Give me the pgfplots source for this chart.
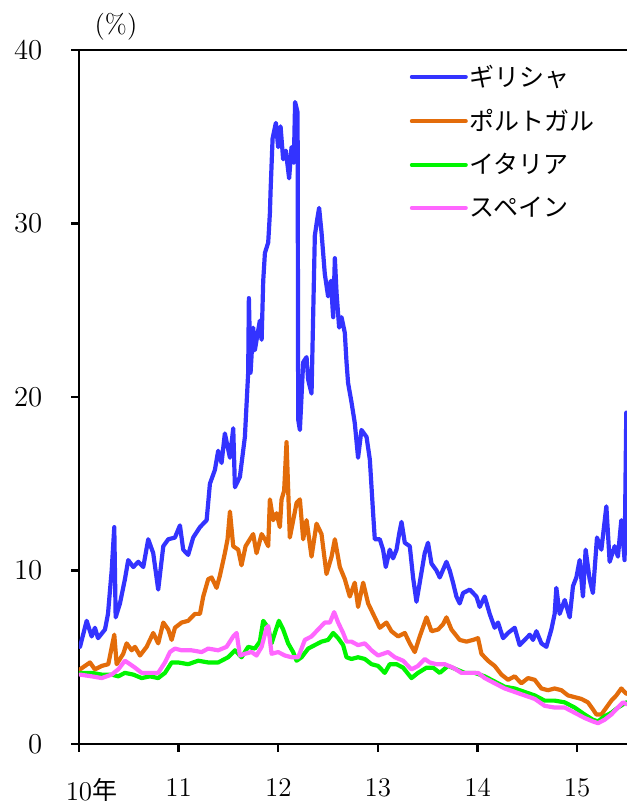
\documentclass[border=0pt]{standalone}
\usepackage{fontspec}
\usepackage{pgfplots}
\pgfplotsset{compat=1.18}
\newfontfamily\cjk{Noto Sans CJK JP}
\definecolor{cGR}{RGB}{51,51,255}
\definecolor{cPT}{RGB}{227,108,10}
\definecolor{cIT}{RGB}{0,245,0}
\definecolor{cES}{RGB}{255,102,255}
\begin{document}
\begin{tikzpicture}
\begin{axis}[
  scale only axis, width=274pt, height=347pt,
  xmin=0, xmax=5.5, ymin=0, ymax=40,
  axis x line=box, axis y line=left,
  axis line style={-, line width=1.4pt},
  xtick pos=bottom, ytick pos=left,
  tick align=outside, major tick length=3.8pt,
  every tick/.style={black, line width=1.2pt},
  xtick={0,1,2,3,4,5},
  xticklabels={10\rlap{\raisebox{0.6pt}{\cjk\fontsize{12.5}{14}\selectfont 年}},11,12,13,14,15},
  ytick={0,10,20,30,40},
  tick label style={font=\fontsize{13.5}{16}\selectfont},
  yticklabel style={xshift=-11pt},
  xticklabel style={yshift=-10pt},
  legend style={draw=none, fill=none, at={(rel axis cs:0.592,0.988)}, anchor=north west,
    font=\cjk\fontsize{12.5}{14}\selectfont, row sep=8pt,
    nodes={inner sep=1pt}},
  legend cell align=left,
  legend image code/.code={\draw[#1, line width=2pt] (0pt,0pt) -- (27pt,0pt);},
  every axis plot/.append style={line width=2.1pt, line join=round, line cap=round},
]
\coordinate (O) at (rel axis cs:0,0);
\coordinate (TL) at (rel axis cs:0,1);
% Greece
\addplot[cGR] coordinates {
(0.010,5.6)(0.077,7.1)(0.127,6.2)(0.160,6.7)(0.191,6.1)(0.261,6.6)(0.291,7.5)(0.328,10.0)
(0.354,12.5)(0.368,7.3)(0.411,8.1)(0.461,9.5)(0.494,10.6)(0.545,10.2)(0.595,10.5)(0.645,10.2)
(0.695,11.8)(0.745,11.0)(0.795,8.9)(0.846,11.4)(0.896,11.8)(0.963,11.9)(1.013,12.6)(1.046,11.2)
(1.096,10.9)(1.146,11.9)(1.214,12.5)(1.281,12.9)(1.314,15.0)(1.364,15.8)(1.397,16.9)(1.431,16.2)
(1.464,17.9)(1.515,16.5)(1.548,18.2)(1.565,14.8)(1.615,15.4)(1.665,17.7)(1.698,21.4)(1.705,25.7)
(1.722,21.4)(1.748,24.0)(1.765,22.7)(1.815,24.4)(1.833,23.3)(1.849,26.7)(1.866,28.3)(1.899,28.9)
(1.916,30.6)(1.923,31.9)(1.943,34.9)(1.976,35.8)(1.999,34.4)(2.023,35.6)(2.049,33.7)(2.076,34.2)
(2.109,32.6)(2.133,34.4)(2.156,33.5)(2.169,37.0)(2.194,36.4)(2.200,18.7)(2.217,18.1)(2.250,22.0)
(2.284,22.3)(2.300,21.0)(2.334,20.2)(2.367,29.3)(2.390,30.2)(2.410,30.9)(2.434,29.5)(2.467,27.1)
(2.500,25.8)(2.528,26.7)(2.551,24.6)(2.568,28.0)(2.585,26.0)(2.611,24.0)(2.635,24.6)(2.668,23.7)
(2.685,22.0)(2.701,20.8)(2.735,19.7)(2.768,18.5)(2.801,16.5)(2.835,18.1)(2.886,17.7)(2.919,16.4)
(2.952,13.3)(2.969,11.8)(3.019,11.8)(3.052,11.2)(3.079,10.2)(3.119,11.2)(3.152,10.7)(3.187,11.2)
(3.213,12.1)(3.237,12.8)(3.270,11.6)(3.320,11.4)(3.353,9.6)(3.387,8.2)(3.420,9.3)(3.470,11.0)
(3.503,11.6)(3.538,10.4)(3.588,10.0)(3.621,9.6)(3.688,10.5)(3.721,10.0)(3.754,9.3)(3.788,8.5)
(3.821,8.1)(3.855,8.7)(3.922,8.9)(3.989,8.5)(4.022,7.9)(4.072,8.5)(4.122,7.5)(4.172,6.7)
(4.206,7.0)(4.256,6.1)(4.306,6.4)(4.373,6.7)(4.423,5.7)(4.473,6.0)(4.524,6.3)(4.557,6.0)
(4.591,6.5)(4.641,5.8)(4.691,5.6)(4.741,6.6)(4.774,7.5)(4.791,9.0)(4.824,7.5)(4.875,8.3)
(4.925,7.3)(4.958,9.1)(4.992,9.6)(5.025,10.6)(5.058,8.5)(5.085,11.2)(5.125,9.5)(5.158,8.7)
(5.199,11.9)(5.243,11.2)(5.293,13.7)(5.326,10.5)(5.376,11.4)(5.409,10.8)(5.443,12.9)(5.476,10.6)
(5.493,19.1)};
\addlegendentry{ギリシャ}
% Portugal
\addplot[cPT] coordinates {
(0.010,4.3)(0.110,4.7)(0.160,4.3)(0.228,4.5)(0.294,4.6)(0.354,6.3)(0.378,4.6)(0.444,5.2)
(0.478,5.8)(0.529,5.4)(0.562,5.6)(0.612,5.1)(0.679,5.6)(0.745,6.4)(0.795,5.8)(0.846,7.0)
(0.896,6.6)(0.930,6.0)(0.963,6.7)(1.030,7.0)(1.096,7.1)(1.163,7.5)(1.214,7.5)(1.247,8.5)
(1.297,9.5)(1.331,9.6)(1.381,9.0)(1.414,9.7)(1.464,11.0)(1.491,11.8)(1.515,13.4)(1.548,11.4)
(1.598,11.2)(1.631,10.3)(1.672,11.4)(1.715,11.8)(1.748,12.1)(1.782,11.0)(1.833,12.1)(1.866,11.8)
(1.899,11.4)(1.916,14.1)(1.949,12.9)(1.983,13.3)(2.016,12.5)(2.033,14.1)(2.059,14.6)(2.083,17.4)
(2.116,11.9)(2.184,13.9)(2.217,14.1)(2.250,11.8)(2.284,12.9)(2.334,10.8)(2.384,12.7)(2.434,12.1)
(2.484,9.8)(2.535,10.8)(2.568,11.8)(2.618,10.2)(2.668,9.5)(2.718,8.5)(2.768,9.3)(2.801,7.9)
(2.852,9.3)(2.902,8.1)(2.952,7.5)(3.019,6.7)(3.086,7.0)(3.136,6.5)(3.203,6.2)(3.270,6.4)
(3.320,5.8)(3.370,5.3)(3.420,6.2)(3.488,7.3)(3.538,6.5)(3.604,6.6)(3.654,6.9)(3.688,7.3)
(3.738,6.6)(3.821,6.0)(3.889,5.9)(3.955,6.0)(4.005,6.1)(4.039,5.2)(4.105,4.8)(4.172,4.5)
(4.240,4.0)(4.306,3.7)(4.373,3.9)(4.440,3.5)(4.507,3.8)(4.574,3.7)(4.641,3.2)(4.707,3.1)
(4.774,3.2)(4.842,3.1)(4.908,2.8)(4.975,2.7)(5.042,2.6)(5.108,2.4)(5.158,2.0)(5.193,1.7)
(5.243,1.7)(5.293,2.1)(5.343,2.5)(5.393,2.8)(5.443,3.2)(5.493,2.9)};
\addlegendentry{ポルトガル}
% Italy
\addplot[cIT] coordinates {
(0.010,4.1)(0.127,4.1)(0.228,4.0)(0.328,4.0)(0.394,3.9)(0.461,4.1)(0.545,4.0)(0.629,3.8)
(0.712,3.9)(0.795,3.8)(0.863,4.1)(0.930,4.7)(0.996,4.7)(1.096,4.6)(1.197,4.8)(1.297,4.7)
(1.397,4.7)(1.497,5.0)(1.565,5.4)(1.632,5.0)(1.698,5.6)(1.765,5.5)(1.815,5.9)(1.849,7.1)
(1.899,6.7)(1.933,5.8)(1.966,6.4)(2.006,7.1)(2.049,6.6)(2.099,5.8)(2.149,5.3)(2.184,4.8)
(2.234,5.0)(2.300,5.5)(2.367,5.7)(2.434,5.9)(2.500,6.0)(2.551,6.4)(2.601,6.1)(2.651,5.7)
(2.685,5.0)(2.735,4.9)(2.801,5.0)(2.869,4.9)(2.936,4.6)(3.002,4.5)(3.069,4.1)(3.119,4.6)
(3.187,4.6)(3.253,4.4)(3.337,3.8)(3.403,4.1)(3.488,4.4)(3.554,4.4)(3.621,4.1)(3.704,4.5)
(3.788,4.3)(3.872,4.1)(3.972,4.1)(4.072,3.9)(4.172,3.6)(4.273,3.3)(4.373,3.2)(4.473,3.0)
(4.574,2.8)(4.674,2.5)(4.774,2.5)(4.875,2.4)(4.975,2.1)(5.075,1.7)(5.158,1.4)(5.209,1.3)
(5.276,1.6)(5.343,1.8)(5.409,2.1)(5.493,2.4)};
\addlegendentry{イタリア}
% Spain
\addplot[cES] coordinates {
(0.010,4.0)(0.127,3.9)(0.228,3.8)(0.328,4.0)(0.394,4.3)(0.461,4.8)(0.512,4.6)(0.562,4.4)
(0.629,4.1)(0.712,4.1)(0.795,4.1)(0.863,4.7)(0.913,5.3)(0.963,5.5)(1.030,5.4)(1.130,5.4)
(1.231,5.3)(1.297,5.5)(1.397,5.4)(1.481,5.6)(1.548,6.2)(1.582,6.4)(1.615,5.1)(1.665,5.2)
(1.732,5.3)(1.782,5.1)(1.833,5.6)(1.883,6.7)(1.899,6.8)(1.933,5.2)(1.999,5.3)(2.066,5.1)
(2.133,5.0)(2.200,5.0)(2.267,6.0)(2.334,6.2)(2.400,6.6)(2.467,7.0)(2.518,7.0)(2.561,7.6)
(2.601,7.0)(2.651,6.4)(2.685,5.9)(2.735,5.9)(2.801,5.7)(2.869,5.8)(2.936,5.4)(3.002,5.1)
(3.102,5.3)(3.170,5.0)(3.253,4.8)(3.337,4.3)(3.403,4.5)(3.470,4.9)(3.520,4.7)(3.588,4.6)
(3.671,4.6)(3.754,4.4)(3.838,4.1)(3.939,4.1)(4.005,4.1)(4.072,3.8)(4.172,3.5)(4.273,3.2)
(4.373,3.0)(4.473,2.8)(4.574,2.6)(4.674,2.2)(4.774,2.1)(4.875,2.1)(4.975,1.8)(5.075,1.5)
(5.158,1.3)(5.209,1.2)(5.276,1.4)(5.343,1.7)(5.409,2.1)(5.459,2.4)(5.493,2.3)};
\addlegendentry{スペイン}
\end{axis}
\node[font=\fontsize{13.5}{16}\selectfont] at ([xshift=18.5pt,yshift=11.5pt]TL) {(\%)};
\pgfresetboundingbox
\path (O) ++(-39.5pt,-30.5pt) rectangle ++(313.5pt,402.5pt);
\end{tikzpicture}
\end{document}
